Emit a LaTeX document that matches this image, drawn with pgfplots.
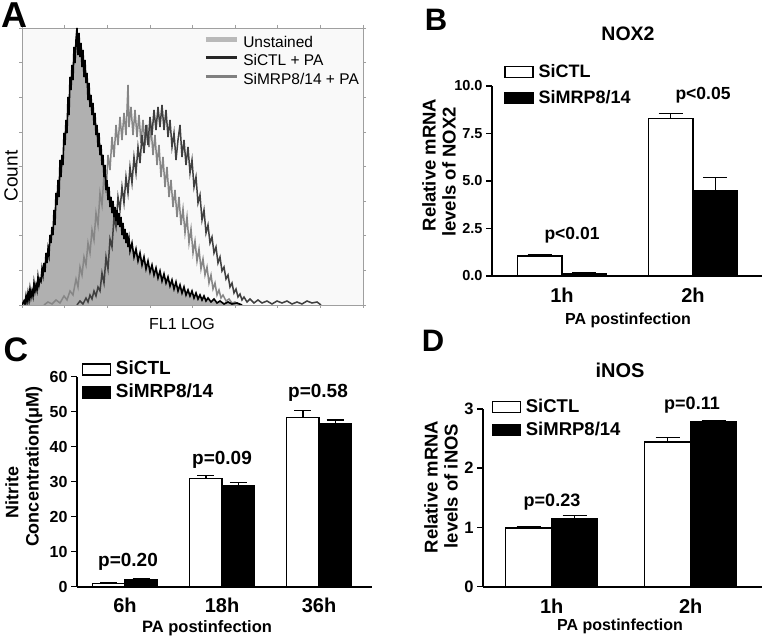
\documentclass[border=0pt]{standalone}
\usepackage{pgfplots}
\usepackage{pgfplotstable}
\pgfplotsset{compat=1.18}
\usepackage{fontspec}
\setmainfont{Liberation Sans}
\newcommand{\fsz}[1]{\fontsize{#1}{#1}\selectfont}

\pgfplotstableread{
x y
0 0
2 4
3 1
4 9
5 3
6 12
7 5
8 16
9 8
10 14
11 9
12 22
13 14
14 20
15 15
16 28
17 20
18 26
19 24
20 36
21 30
22 42
23 33
24 52
25 42
26 56
27 50
28 70
29 62
30 78
31 70
32 95
33 80
34 112
35 100
36 125
37 108
38 145
39 128
40 150
41 140
42 172
43 160
44 185
45 172
46 208
47 190
48 228
49 215
50 240
51 225
52 258
53 242
54 265
55 277
56 250
57 272
58 248
59 262
60 238
61 255
62 228
63 245
64 222
65 232
66 205
67 222
68 198
69 210
70 190
71 202
72 180
73 192
74 170
75 180
76 158
77 172
78 150
79 160
80 140
81 150
82 128
83 140
84 115
85 125
86 105
87 118
88 98
89 108
90 92
91 104
92 88
93 98
94 84
95 95
96 80
97 92
98 78
99 88
100 70
101 82
102 66
103 76
104 62
105 72
106 58
107 66
108 54
110 62
112 48
114 56
116 44
118 52
120 40
122 48
124 36
126 44
128 33
130 40
132 30
134 37
136 27
138 34
140 24
142 31
144 22
146 28
148 19
150 25
152 16
154 23
156 14
158 20
160 12
162 18
164 10
166 15
168 9
170 14
172 7
174 12
176 6
178 10
180 5
182 9
184 4
186 7
189 3
192 6
195 2
198 4
202 1
206 3
210 1
215 2
220 0
}\unstained

\pgfplotstableread{
x y
22 0
26 3
30 1
34 5
38 2
42 9
45 5
48 14
51 10
54 26
56 18
58 38
60 30
62 48
64 40
66 62
68 52
70 75
72 65
74 92
76 80
78 112
80 100
82 130
84 112
86 150
88 135
90 168
92 148
94 180
96 160
98 188
100 165
102 192
104 170
106 220
107 178
109 198
111 170
113 195
115 168
117 190
119 162
121 185
123 160
125 180
127 158
129 178
131 150
133 170
135 140
137 160
139 128
141 148
143 118
145 138
147 108
149 125
151 98
153 115
155 88
157 108
159 80
161 96
163 72
165 88
167 62
169 76
171 52
173 64
175 44
177 56
179 36
181 46
183 30
185 38
187 22
189 30
191 16
193 22
195 10
197 15
199 7
201 10
204 4
207 6
210 2
213 3
216 1
220 0
}\simrp

\pgfplotstableread{
x y
55 0
58 4
61 1
64 7
66 3
68 10
70 6
72 14
74 9
76 18
78 14
80 32
82 22
84 48
86 36
88 66
90 58
92 88
94 78
96 108
98 95
100 118
102 102
104 128
106 112
108 138
110 122
112 148
114 132
116 158
118 142
120 170
122 152
124 180
126 160
128 188
130 170
132 195
134 175
136 198
138 178
140 200
142 175
144 195
146 168
148 185
150 158
152 172
154 145
156 165
158 180
160 148
162 165
164 140
166 158
168 132
170 145
172 118
174 128
176 102
178 110
180 85
182 95
184 72
186 80
188 62
190 68
192 52
194 58
196 42
198 48
200 34
202 38
204 26
206 30
208 18
210 22
212 12
214 16
216 8
218 11
220 5
222 8
225 3
228 6
232 2
236 5
240 2
245 4
250 1
255 4
260 2
265 4
270 1
275 3
280 1
285 4
290 2
295 3
299 0
}\sictl

% bar tables: x = group position (1 = first time point) shifted to the bar centre
\pgfplotstableread{
x y e
0.83 1.05 0.05
1.83 8.30 0.25
}\BctlT
\pgfplotstableread{
x y e
1.17 0.10 0.07
2.17 4.50 0.70
}\BmrpT
\pgfplotstableread{
x y e
0.8335 0.95 0.35
1.8335 31.0 0.7
2.8335 48.3 2.1
}\CctlT
\pgfplotstableread{
x y e
1.1665 1.9 0.4
2.1665 29.0 0.7
3.1665 46.6 1.0
}\CmrpT
\pgfplotstableread{
x y e
0.8345 0.99 0.02
1.8345 2.44 0.08
}\DctlT
\pgfplotstableread{
x y e
1.1655 1.14 0.06
2.1655 2.78 0.02
}\DmrpT

\pgfplotsset{
  barax/.style={
    scale only axis, anchor=south west,
    axis x line=bottom, axis y line=left,
    axis line style={-, line width=1.7pt},
    ymin=0, clip=false,
    xtick={1,2,3}, xticklabels={1h,2h},
    x tick style={draw=none}, major x tick style={draw=none},
    ytick style={line width=1.5pt, black},
    tick align=outside, major tick length=6pt,
    /pgf/number format/assume math mode=true,
    xticklabel style={font=\bfseries\fsz{20}, anchor=center, yshift=-13pt},
    legend cell align=left,
    legend image code/.code={\draw[##1, line width=1.3pt] (0pt,-5pt) rectangle (28pt,6pt);},
  },
  errb/.style={
    error bars/y dir=plus, error bars/y explicit,
    error bars/error bar style={line width=1.3pt, black},
    error bars/error mark options={rotate=90, line width=1.3pt, black, mark size=#1}},
  barctl/.style={ybar, bar shift=0pt, fill=white, draw=black, line width=1.4pt, forget plot, errb=#1},
  barmrp/.style={ybar, bar shift=0pt, fill=black, draw=black, line width=1.4pt, forget plot, errb=#1},
}

\begin{document}
\begin{tikzpicture}[x=1pt,y=1pt]
\useasboundingbox (0,0) rectangle (762,637);

% ---------------- Panel A ----------------
\begin{axis}[
  at={(22pt,332pt)}, anchor=south west, scale only axis,
  width=341pt, height=277pt,
  xmin=0, xmax=341, ymin=0, ymax=277,
  axis background/.style={fill=gray!5},
  axis line style={draw=gray!75, line width=0.9pt},
  xtick={0,42.625,...,330}, ytick={0,34.625,...,270},
  xticklabels={}, yticklabels={},
  tick align=outside, major tick length=3pt,
  tick style={gray!75, line width=0.7pt},
  legend style={at={(axis description cs:0.531,0.975)}, anchor=north west,
    draw=none, fill=none, inner sep=0pt, row sep=2.5pt, column sep=3pt,
    nodes={inner sep=1pt, text height=11pt, text depth=3pt, font=\fsz{15.5}}},
  legend cell align=left,
  legend image code/.code={\draw[#1] (0pt,4pt) -- (31pt,4pt);},
]
\addplot[fill=gray!62, draw=none, forget plot] table[x=x,y=y] {\unstained} \closedcycle;
\addplot[gray!95!white, line width=1.5pt, forget plot] table[x=x,y=y] {\simrp};
\addplot[black!75, line width=1.5pt, forget plot] table[x=x,y=y] {\sictl};
\addplot[black, line width=1.6pt, forget plot] table[x=x,y=y] {\unstained};
\addlegendimage{line width=5pt, gray!55}
\addlegendentry{Unstained}
\addlegendimage{line width=3pt, black!85}
\addlegendentry{SiCTL + PA}
\addlegendimage{line width=3pt, gray}
\addlegendentry{SiMRP8/14 + PA}
\end{axis}
\node[font=\bfseries\fsz{36}] at (14,622) {A};
\node[rotate=90, font=\fsz{19}] at (11,461) {Count};
\node[font=\fsz{16}] at (182,313) {FL1 LOG};

% ---------------- Panel B ----------------
\begin{axis}[barax,
  at={(492pt,361pt)}, width=270pt, height=190pt,
  xmin=0.466, xmax=2.527, ymax=10,
  ytick={0,2.5,5,7.5,10},
  /pgf/number format/fixed, /pgf/number format/fixed zerofill,
  /pgf/number format/precision=1,
  yticklabel style={font=\bfseries\fsz{14.5}},
  legend style={at={(axis description cs:0.045,1.115)}, anchor=north west,
    draw=none, fill=none, inner sep=0pt, row sep=9pt, column sep=4pt,
    nodes={inner sep=1pt, text height=12pt, text depth=3pt, font=\bfseries\fsz{18}}},
]
\addplot[barctl=12pt, bar width=0.34] table[x=x,y=y,y error=e] {\BctlT};
\addplot[barmrp=12pt, bar width=0.34] table[x=x,y=y,y error=e] {\BmrpT};
\addlegendimage{fill=white, draw=black}
\addlegendentry{SiCTL}
\addlegendimage{fill=black, draw=black}
\addlegendentry{SiMRP8/14}
\end{axis}
\node[font=\bfseries\fsz{31}] at (436,617) {B};
\node[font=\bfseries\fsz{19.5}] at (628,603) {NOX2};
\node[font=\bfseries\fsz{17.5}] at (572,402) {p<0.01};
\node[font=\bfseries\fsz{17.5}] at (703,542) {p<0.05};
\node[font=\bfseries\fsz{16}] at (628,317) {PA postinfection};
\node[rotate=90, font=\bfseries\fsz{18.5}] at (429,472) {Relative mRNA};
\node[rotate=90, font=\bfseries\fsz{18.5}] at (449,465) {levels of NOX2};

% ---------------- Panel C ----------------
\begin{axis}[barax,
  at={(77pt,50.3pt)}, width=295pt, height=210pt,
  xmin=0.505, xmax=3.546, ymax=60,
  ytick={0,10,...,60},
  xticklabels={6h,18h,36h},
  xticklabel style={yshift=0.7pt},
  yticklabel style={font=\bfseries\fsz{16}},
  legend style={at={(axis description cs:0.015,1.075)}, anchor=north west,
    draw=none, fill=none, inner sep=0pt, row sep=5.5pt, column sep=4pt,
    nodes={inner sep=1pt, text height=12.5pt, text depth=3pt, font=\bfseries\fsz{19}}},
]
\addplot[barctl=8.5pt, bar width=0.333] table[x=x,y=y,y error=e] {\CctlT};
\addplot[barmrp=8.5pt, bar width=0.333] table[x=x,y=y,y error=e] {\CmrpT};
\addlegendimage{fill=white, draw=black}
\addlegendentry{SiCTL}
\addlegendimage{fill=black, draw=black}
\addlegendentry{SiMRP8/14}
\end{axis}
\node[font=\bfseries\fsz{34}] at (16,287) {C};
\node[font=\bfseries\fsz{19}] at (128,75) {p=0.20};
\node[font=\bfseries\fsz{19}] at (222,177) {p=0.09};
\node[font=\bfseries\fsz{19}] at (318,244) {p=0.58};
\node[font=\bfseries\fsz{16.5}] at (207,9) {PA postinfection};
\node[rotate=90, font=\bfseries\fsz{18}] at (12,145) {Nitrite};
\node[rotate=90, font=\bfseries\fsz{18}] at (34,170) {Concentration(μM)};

% ---------------- Panel D ----------------
\begin{axis}[barax,
  at={(483pt,50.3pt)}, width=279pt, height=177.7pt,
  xmin=0.506, xmax=2.513, ymax=3,
  ytick={0,1,2,3},
  xticklabel style={yshift=-1pt},
  yticklabel style={font=\bfseries\fsz{16.5}},
  legend style={at={(axis description cs:0.03,1.06)}, anchor=north west,
    draw=none, fill=none, inner sep=0pt, row sep=5.5pt, column sep=4pt,
    nodes={inner sep=1pt, text height=12.5pt, text depth=3pt, font=\bfseries\fsz{18.5}}},
]
\addplot[barctl=12pt, bar width=0.331] table[x=x,y=y,y error=e] {\DctlT};
\addplot[barmrp=12pt, bar width=0.331] table[x=x,y=y,y error=e] {\DmrpT};
\addlegendimage{fill=white, draw=black}
\addlegendentry{SiCTL}
\addlegendimage{fill=black, draw=black}
\addlegendentry{SiMRP8/14}
\end{axis}
\node[font=\bfseries\fsz{31}] at (433,296) {D};
\node[font=\bfseries\fsz{20}] at (620,267) {iNOS};
\node[font=\bfseries\fsz{18}] at (552,135) {p=0.23};
\node[font=\bfseries\fsz{18}] at (692,232) {p=0.11};
\node[font=\bfseries\fsz{16}] at (620,11) {PA postinfection};
\node[rotate=90, font=\bfseries\fsz{18.5}] at (431,150) {Relative mRNA};
\node[rotate=90, font=\bfseries\fsz{18.5}] at (451,151) {levels of iNOS};
\end{tikzpicture}
\end{document}
